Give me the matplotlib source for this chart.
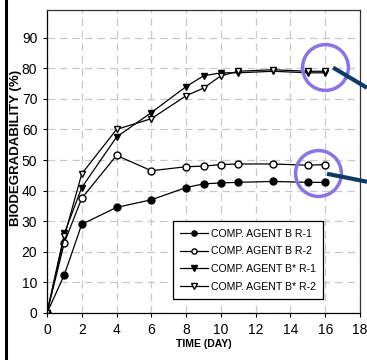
import matplotlib
matplotlib.use("Agg")
import matplotlib.pyplot as plt
from matplotlib.lines import Line2D

plt.rcParams["font.family"] = ["Liberation Sans", "DejaVu Sans"]

days = [0, 1, 2, 4, 6, 8, 9, 10, 11, 13, 15, 16]
b_r1 = [0, 12.5, 29, 34.5, 37, 41, 42.2, 42.5, 42.7, 43, 42.7, 42.7]
b_r2 = [0, 23, 37.5, 51.5, 46.5, 47.8, 48, 48.5, 48.7, 48.7, 48.3, 48.5]
bs_r1 = [0, 26, 41, 57.5, 65.5, 74, 77.5, 78.5, 78.5, 79, 78.5, 78.5]
bs_r2 = [0, 25, 45.5, 60, 63.5, 71, 73.5, 77.5, 79, 79.5, 79, 79]

labels = ["COMP. AGENT B R-1", "COMP. AGENT B R-2",
          "COMP. AGENT B* R-1", "COMP. AGENT B* R-2"]

# highlight circles (centre x, centre y) and pointer lines
circle_x = [16.0, 15.6]
circle_y = [80.3, 45.8]
pointer_x = [[16.45, 18.4], [16.1, 18.4]]
pointer_y = [[80.2, 73.6], [45.5, 42.9]]

fig = plt.figure(figsize=(3.67, 3.60), dpi=100)
ax = fig.add_axes([0.128, 0.1306, 0.853, 0.8414])

ax.plot(days, b_r1, "-o", color="black", lw=0.9, ms=5, mfc="black",
        label=labels[0])
ax.plot(days, b_r2, "-o", color="black", lw=0.9, ms=5, mfc="white",
        label=labels[1])
ax.plot(days, bs_r1, "-v", color="black", lw=0.9, ms=5, mfc="black",
        label=labels[2])
ax.plot(days, bs_r2, "-v", color="black", lw=0.9, ms=5, mfc="white",
        label=labels[3])

ax.set_xlim(0, 18)
ax.set_ylim(0, 99)
ax.set_xticks(range(0, 19, 2))
ax.set_yticks(range(0, 91, 10))
ax.tick_params(labelsize=10, length=3, width=0.8, pad=4)
ax.grid(True, color="#c8c8c8", linestyle=(0, (6, 4)), lw=0.9)
ax.set_axisbelow(True)
for s in ax.spines.values():
    s.set_linewidth(0.9)
ax.spines["top"].set_color("#333333")
ax.spines["right"].set_color("#333333")

ax.set_xlabel("TIME (DAY)", fontsize=7.5, fontweight="bold", labelpad=2)
fig.text(16.5 / 367, 1 - 148 / 360, "BIODEGRADABILITY (%)", rotation=90,
         ha="center", va="center", fontsize=9.5, fontweight="bold")

leg = ax.legend(loc="lower left", bbox_to_anchor=(0.4026, 0.046),
                fontsize=7.6, fancybox=False, edgecolor="black",
                framealpha=1, handlelength=2.6, borderpad=0.7,
                labelspacing=0.72, handletextpad=0.3, borderaxespad=0,
                markerscale=0.75)
leg.get_frame().set_linewidth(0.9)

for cx, cy in zip(circle_x, circle_y):
    ax.plot(cx, cy, "o", ms=33, mfc="none", mec="#8b72e6", mew=2.5,
            clip_on=False, zorder=5)
for px, py in zip(pointer_x, pointer_y):
    ax.plot(px, py, color="#0d3b66", lw=3, clip_on=False, zorder=5,
            solid_capstyle="butt")

fig.add_artist(Line2D([5.5 / 367, 5.5 / 367], [0, 1], color="black", lw=2.2))

fig.savefig("out.png", dpi=100)
